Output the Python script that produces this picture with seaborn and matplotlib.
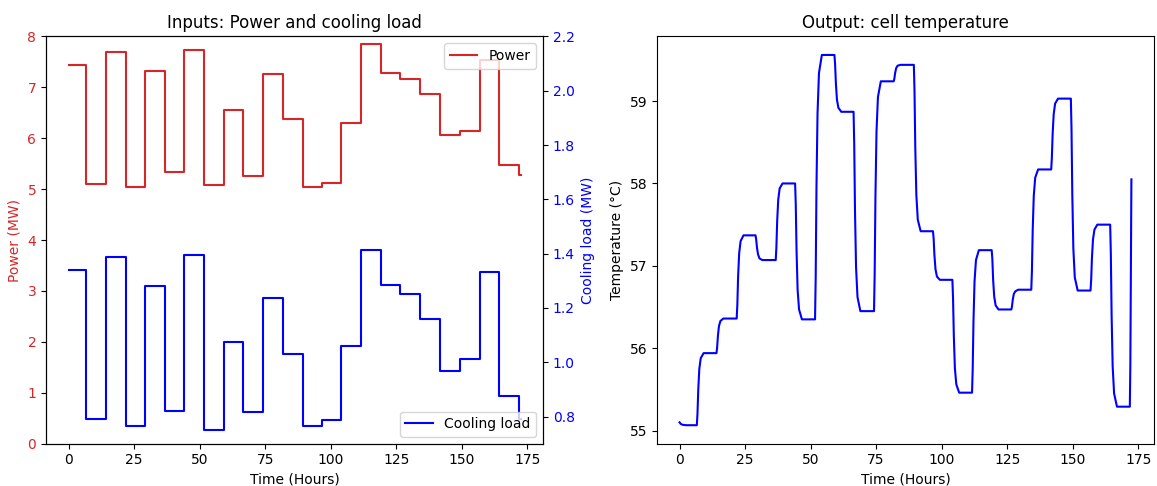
import numpy as np
import pandas as pd
import matplotlib
matplotlib.use('Agg')
import matplotlib.pyplot as plt
import seaborn as sns

# step boundaries (hours), last entry = end of run
step_times = [0.0, 6.6, 14.1, 21.8, 29.0, 36.7, 44.1, 51.7, 59.1, 66.4, 74.2, 81.7,
              89.4, 96.7, 104.1, 111.6, 119.1, 126.6, 134.2, 141.8, 149.3, 156.8,
              164.3, 171.8, 172.4]

# power per step (MW)
power = [7.43, 5.10, 7.70, 5.05, 7.32, 5.34, 7.73, 5.08, 6.55, 5.25, 7.26, 6.38,
         5.05, 5.13, 6.30, 7.85, 7.29, 7.17, 6.87, 6.07, 6.15, 7.54, 5.47, 5.28]

# cooling load per step (MW)
cooling = [1.338, 0.792, 1.387, 0.765, 1.282, 0.820, 1.395, 0.751, 1.075, 0.816,
           1.237, 1.032, 0.767, 0.788, 1.061, 1.414, 1.283, 1.251, 1.159, 0.967,
           1.012, 1.331, 0.877, 0.79]

# cell temperature trace
temp_time = [0.0, 0.5, 1.2, 2.5,
             6.6, 6.85, 7.15, 7.55, 8.1, 9.2,
             14.1, 14.35, 14.65, 15.05, 15.6, 16.7,
             21.8, 22.05, 22.35, 22.75, 23.3, 24.4,
             29.0, 29.25, 29.55, 29.95, 30.5, 31.6,
             36.7, 36.95, 37.25, 37.65, 38.2, 39.3,
             44.1, 44.35, 44.65, 45.05, 45.6, 46.7,
             51.7, 51.95, 52.25, 52.65, 53.2, 54.3,
             59.1, 59.35, 59.65, 60.05, 60.6, 61.7,
             66.4, 66.65, 66.95, 67.35, 67.9, 69.0,
             74.2, 74.45, 74.75, 75.15, 75.7, 76.8,
             81.7, 81.95, 82.25, 82.65, 83.2, 84.3,
             89.4, 89.65, 89.95, 90.35, 90.9, 92.0,
             96.7, 96.95, 97.25, 97.65, 98.2, 99.3,
             104.1, 104.35, 104.65, 105.05, 105.6, 106.7,
             111.6, 111.85, 112.15, 112.55, 113.1, 114.2,
             119.1, 119.35, 119.65, 120.05, 120.6, 121.7,
             126.6, 126.85, 127.15, 127.55, 128.1, 129.2,
             134.2, 134.45, 134.75, 135.15, 135.7, 136.8,
             141.8, 142.05, 142.35, 142.75, 143.3, 144.4,
             149.3, 149.55, 149.85, 150.25, 150.8, 151.9,
             156.8, 157.05, 157.35, 157.75, 158.3, 159.4,
             164.3, 164.55, 164.85, 165.25, 165.8, 166.9,
             171.8, 172.0, 172.2, 172.4]
temp_vals = [55.10, 55.08, 55.07, 55.065,
             55.065, 55.205, 55.50, 55.75, 55.88, 55.94,
             55.94, 56.01, 56.15, 56.27, 56.33, 56.36,
             56.36, 56.52, 56.87, 57.15, 57.30, 57.37,
             57.37, 57.32, 57.22, 57.14, 57.09, 57.07,
             57.07, 57.22, 57.54, 57.80, 57.94, 58.00,
             58.00, 57.74, 57.18, 56.71, 56.47, 56.35,
             56.35, 56.86, 57.96, 58.85, 59.34, 59.56,
             59.56, 59.45, 59.22, 59.02, 58.92, 58.87,
             58.87, 58.48, 57.66, 56.98, 56.62, 56.45,
             56.45, 56.90, 57.85, 58.63, 59.05, 59.24,
             59.24, 59.27, 59.34, 59.40, 59.43, 59.44,
             59.44, 59.12, 58.43, 57.86, 57.56, 57.42,
             57.42, 57.33, 57.13, 56.96, 56.87, 56.83,
             56.83, 56.61, 56.15, 55.76, 55.56, 55.46,
             55.46, 55.74, 56.33, 56.81, 57.07, 57.19,
             57.19, 57.08, 56.83, 56.63, 56.52, 56.47,
             56.47, 56.51, 56.59, 56.66, 56.69, 56.71,
             56.71, 56.94, 57.44, 57.85, 58.07, 58.17,
             58.17, 58.31, 58.60, 58.84, 58.97, 59.03,
             59.03, 58.66, 57.87, 57.21, 56.86, 56.70,
             56.70, 56.83, 57.10, 57.32, 57.44, 57.50,
             57.50, 57.15, 56.40, 55.78, 55.45, 55.29,
             55.29, 55.80, 57.00, 58.05]

# step series need the last value repeated at the end time
inputs = pd.DataFrame({'time': step_times,
                       'power': power + [power[-1]],
                       'cooling': cooling + [cooling[-1]]})
temps = pd.DataFrame({'time': temp_time, 'temp': temp_vals})

fig, (ax1, ax3) = plt.subplots(1, 2, figsize=(11.57, 4.86), dpi=100)
fig.subplots_adjust(left=0.0398, right=0.9974, top=0.925, bottom=0.087, wspace=0.229)

#Inputs panel
sns.lineplot(data=inputs, x='time', y='power', ax=ax1, color='tab:red',
             drawstyle='steps-post', estimator=None, label='Power', linewidth=1.5)
ax1.set_ylim(0, 8)
ax1.set_ylabel('Power (MW)', color='tab:red')
ax1.set_xlabel('Time (Hours)')
ax1.tick_params(axis='y', labelcolor='tab:red')
ax1.set_title('Inputs: Power and cooling load')
ax1.legend(loc='upper right')

ax2 = ax1.twinx()
sns.lineplot(data=inputs, x='time', y='cooling', ax=ax2, color='b',
             drawstyle='steps-post', estimator=None, label='Cooling load', linewidth=1.5)
ax2.set_ylim(0.7, 2.2)
ax2.set_ylabel('Cooling load (MW)', color='b')
ax2.tick_params(axis='y', labelcolor='b')
ax2.legend(loc='lower right')

#Output panel
sns.lineplot(data=temps, x='time', y='temp', ax=ax3, color='b',
             estimator=None, linewidth=1.5)
ax3.set_xlabel('Time (Hours)')
ax3.set_ylabel('Temperature (°C)')
ax3.set_title('Output: cell temperature')

plt.savefig('out.png', dpi=100)
